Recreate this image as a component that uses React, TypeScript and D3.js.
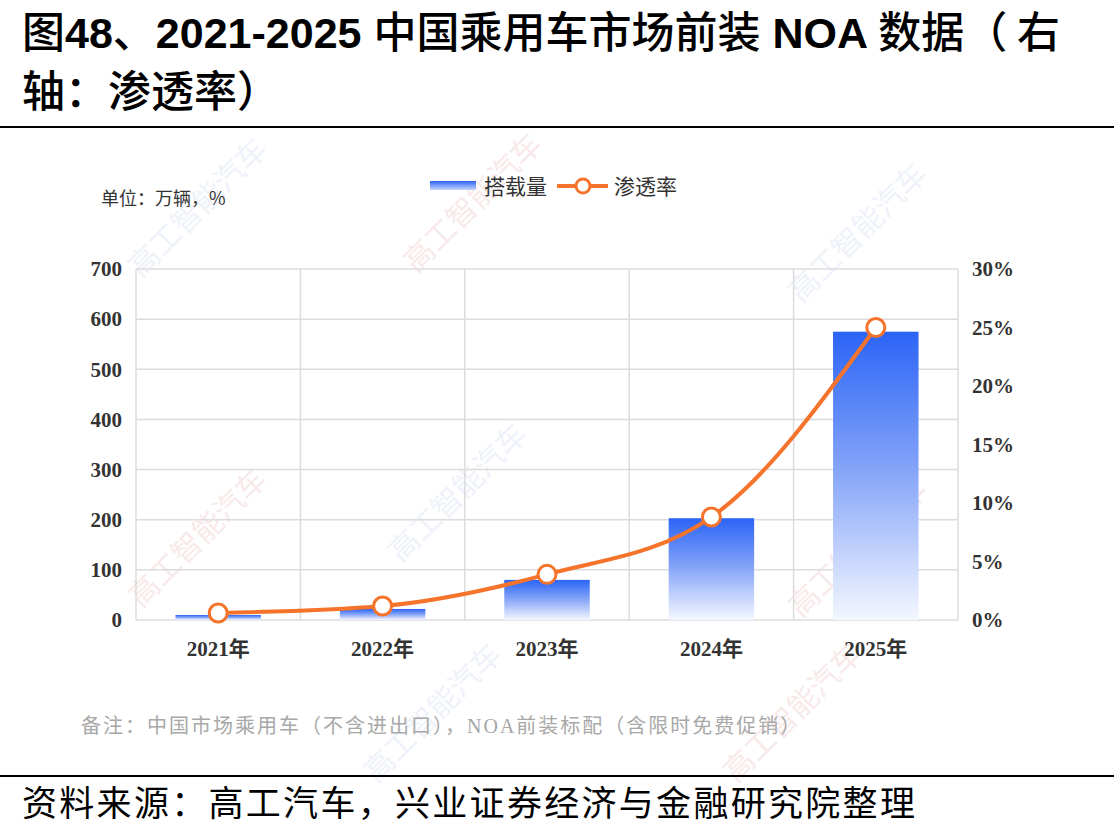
import { useMemo } from "react";
import * as d3 from "d3";

const years = ["2021年", "2022年", "2023年", "2024年", "2025年"];
const volume = [10, 22, 80, 203, 575];
const rate = [0.6, 1.2, 3.9, 8.8, 25.0];
const leftTicks = [0, 100, 200, 300, 400, 500, 600, 700];
const rightTicks = [0, 5, 10, 15, 20, 25, 30];

const W = 1114;
const H = 840;
const MARGIN = { top: 269, right: 156, bottom: 220, left: 136 };
const BLUE = "#2b64f6";
const ORANGE = "#f5732b";
const CJK = "'Noto Sans CJK SC', 'Noto Sans', sans-serif";
const LATIN = "'Liberation Sans', Arial, sans-serif";
const SERIF = "'Liberation Serif', 'Noto Sans CJK SC', serif";

const App = () => {
  const boundsWidth = W - MARGIN.left - MARGIN.right;
  const boundsHeight = H - MARGIN.top - MARGIN.bottom;

  const xScale = useMemo(
    () => d3.scaleBand().domain(years).range([0, boundsWidth]).paddingInner(0).paddingOuter(0),
    [boundsWidth]
  );
  const yLeft = d3.scaleLinear().domain([0, 700]).range([boundsHeight, 0]);
  const yRight = d3.scaleLinear().domain([0, 30]).range([boundsHeight, 0]);
  const barW = xScale.bandwidth() * 0.52;

  const line = d3
    .line<number>()
    .x((_, i) => (xScale(years[i]) as number) + xScale.bandwidth() / 2)
    .y((d) => yRight(d))
    .curve(d3.curveMonotoneX);

  const watermarks = [
    [205, 215], [480, 210], [865, 240], [205, 545], [465, 500], [865, 555], [440, 720], [800, 720],
  ];

  const L = (s: string) => (
    <tspan fontFamily={LATIN} fontWeight="bold">
      {s}
    </tspan>
  );

  return (
    <svg width={W} height={H} style={{ display: "block", position: "absolute", left: 0, top: 0 }}>
      <defs>
        <linearGradient id="barGrad" x1="0" y1="0" x2="0" y2="1">
          <stop offset="0%" stopColor={BLUE} />
          <stop offset="45%" stopColor="#7fa0f8" />
          <stop offset="100%" stopColor="#f4f7ff" />
        </linearGradient>
        <linearGradient id="legendGrad" x1="0" y1="0" x2="0" y2="1">
          <stop offset="0%" stopColor={BLUE} />
          <stop offset="100%" stopColor="#c8d6fb" />
        </linearGradient>
      </defs>
      <rect width={W} height={H} fill="#fff" />

      {/* title */}
      <text x={22} y={48} fontFamily={CJK} fontWeight={500} fontSize={43} fill="#000">
        图{L("48")}、{L("2021-2025 ")}中国乘用车市场前装{L(" NOA ")}数据（ 右
      </text>
      <text x={22} y={107} fontFamily={CJK} fontWeight={500} fontSize={43} fill="#000">
        轴：渗透率）
      </text>
      <line x1={0} x2={W} y1={127} y2={127} stroke="#000" strokeWidth={2} />

      {/* watermarks */}
      {watermarks.map(([x, y], i) => (
        <text
          key={i}
          transform={`translate(${x},${y}) rotate(-45)`}
          fontFamily={CJK}
          fontSize={30}
          fill={i % 2 ? "#f3d9d9" : "#e2e9f6"}
          opacity={0.55}
          textAnchor="middle"
        >
          高工智能汽车
        </text>
      ))}

      {/* unit + legend */}
      <text x={101} y={205} fontFamily={CJK} fontSize={18} fill="#333">
        单位：万辆，%
      </text>
      <rect x={430} y={181} width={46} height={9} fill="url(#legendGrad)" />
      <text x={484} y={194} fontFamily={CJK} fontSize={21} fill="#333">
        搭载量
      </text>
      <line x1={557} x2={608} y1={186} y2={186} stroke={ORANGE} strokeWidth={4} />
      <circle cx={583} cy={186} r={7} fill="#fff" stroke={ORANGE} strokeWidth={3} />
      <text x={614} y={194} fontFamily={CJK} fontSize={21} fill="#333">
        渗透率
      </text>

      <g transform={`translate(${MARGIN.left},${MARGIN.top})`}>
        {leftTicks.map((t) => (
          <g key={t}>
            <line x1={0} x2={boundsWidth} y1={yLeft(t)} y2={yLeft(t)} stroke="#dcdcdc" strokeWidth={1.5} />
            <text
              x={-14}
              y={yLeft(t)}
              dy="0.35em"
              textAnchor="end"
              fontFamily={SERIF}
              fontWeight="bold"
              fontSize={21}
              fill="#333"
            >
              {t}
            </text>
          </g>
        ))}
        {rightTicks.map((t) => (
          <text
            key={t}
            x={boundsWidth + 14}
            y={yRight(t)}
            dy="0.35em"
            fontFamily={SERIF}
            fontWeight="bold"
            fontSize={21}
            fill="#333"
          >
            {t}%
          </text>
        ))}
        {[...years, "end"].map((y, i) => {
          const x = i * xScale.bandwidth();
          return <line key={y} x1={x} x2={x} y1={0} y2={boundsHeight} stroke="#dcdcdc" strokeWidth={1.5} />;
        })}

        {volume.map((v, i) => {
          const cx = (xScale(years[i]) as number) + xScale.bandwidth() / 2;
          return (
            <rect
              key={years[i]}
              x={cx - barW / 2}
              y={yLeft(v)}
              width={barW}
              height={boundsHeight - yLeft(v)}
              fill="url(#barGrad)"
            />
          );
        })}

        <path d={line(rate) || ""} fill="none" stroke={ORANGE} strokeWidth={4} />
        {rate.map((r, i) => (
          <circle
            key={i}
            cx={(xScale(years[i]) as number) + xScale.bandwidth() / 2}
            cy={yRight(r)}
            r={9}
            fill="#fff"
            stroke={ORANGE}
            strokeWidth={3}
          />
        ))}

        {years.map((y) => (
          <text
            key={y}
            x={(xScale(y) as number) + xScale.bandwidth() / 2}
            y={boundsHeight + 36}
            textAnchor="middle"
            fontFamily={SERIF}
            fontWeight="bold"
            fontSize={21}
            fill="#333"
          >
            {y}
          </text>
        ))}
      </g>

      {/* footnote */}
      <text x={81} y={733} fontFamily={CJK} fontSize={20} fill="#a8a8a8" letterSpacing={2}>
        备注：中国市场乘用车（不含进出口），
        <tspan fontFamily={SERIF}>NOA</tspan>
        前装标配（含限时免费促销）
      </text>

      <line x1={0} x2={W} y1={776} y2={776} stroke="#000" strokeWidth={2} />
      <text x={22} y={816} fontFamily={CJK} fontSize={35} fill="#000" letterSpacing={2.3}>
        资料来源：高工汽车，兴业证券经济与金融研究院整理
      </text>
    </svg>
  );
};

export default App;
